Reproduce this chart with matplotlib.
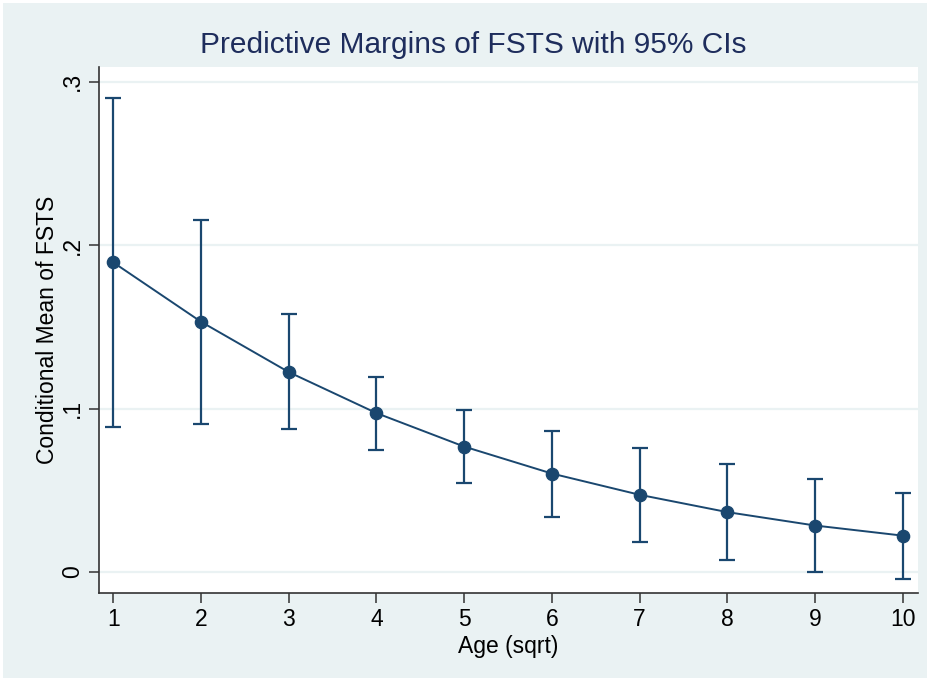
import matplotlib
matplotlib.use("Agg")
import matplotlib.pyplot as plt
from matplotlib.patches import Rectangle

plt.rcParams['font.family'] = ['Liberation Sans', 'DejaVu Sans']

age = [1, 2, 3, 4, 5, 6, 7, 8, 9, 10]
margin = [0.1894, 0.1531, 0.1223, 0.0972, 0.0767, 0.0602, 0.0472, 0.0366, 0.0284, 0.0222]
ci_high = [0.2903, 0.2151, 0.1576, 0.1190, 0.0988, 0.0863, 0.0757, 0.0661, 0.0568, 0.0484]
ci_low = [0.0886, 0.0908, 0.0872, 0.0749, 0.0545, 0.0339, 0.0182, 0.0073, 0.0002, -0.0043]
yticks = [0, 0.1, 0.2, 0.3]
ytick_labels = ["0", ".1", ".2", ".3"]

navy = "#1a476f"
bg = "#eaf2f3"
W, H = 930, 681
fig = plt.figure(figsize=(W / 100, H / 100), dpi=100)
fig.patch.set_facecolor("white")
fig.patches.append(Rectangle((3 / W, 3 / H), (W - 6) / W, (H - 6) / H,
                             transform=fig.transFigure, facecolor=bg,
                             edgecolor="none", zorder=-10))

ax = fig.add_axes([99 / W, 1 - 593 / H, (917.7 - 99) / W, (593 - 67) / H])
ax.set_zorder(1)
ax.set_facecolor("white")

err_low = [m - l for m, l in zip(margin, ci_low)]
err_high = [h - m for m, h in zip(margin, ci_high)]
ax.errorbar(age, margin, yerr=[err_low, err_high], fmt="none", ecolor=navy,
            elinewidth=1.6, capsize=5.5, capthick=1.6, zorder=3)
ax.plot(age, margin, color=navy, lw=1.4, marker="o", markersize=8.8,
        markerfacecolor=navy, markeredgecolor=navy, zorder=4)

ax.set_xlim(0.837, 10.17)
ax.set_ylim(-0.0129, 0.309)
ax.set_xticks(age)
ax.set_xticklabels([str(a) for a in age])
ax.set_yticks(yticks)
ax.set_yticklabels(ytick_labels, rotation=90, va="center")

ax.grid(axis="y", color=bg, lw=1.6)
ax.set_axisbelow(True)
for s in ["top", "right"]:
    ax.spines[s].set_visible(False)
for s in ["left", "bottom"]:
    ax.spines[s].set_color("#333333")
    ax.spines[s].set_linewidth(1.2)
ax.tick_params(axis="both", length=7, width=1.1, color="#333333",
               labelsize=16.5, labelcolor="black", pad=4)

ax.set_xlabel("Age (sqrt)", fontsize=16.5, labelpad=3)
ax.set_ylabel("Conditional Mean of FSTS", fontsize=16.5, labelpad=1)
fig.text(473 / W, 1 - 45 / H, "Predictive Margins of FSTS with 95% CIs",
         ha="center", va="center", fontsize=21.5, color="#1e2d5c")

fig.savefig("out.png", dpi=100, facecolor=fig.get_facecolor())
